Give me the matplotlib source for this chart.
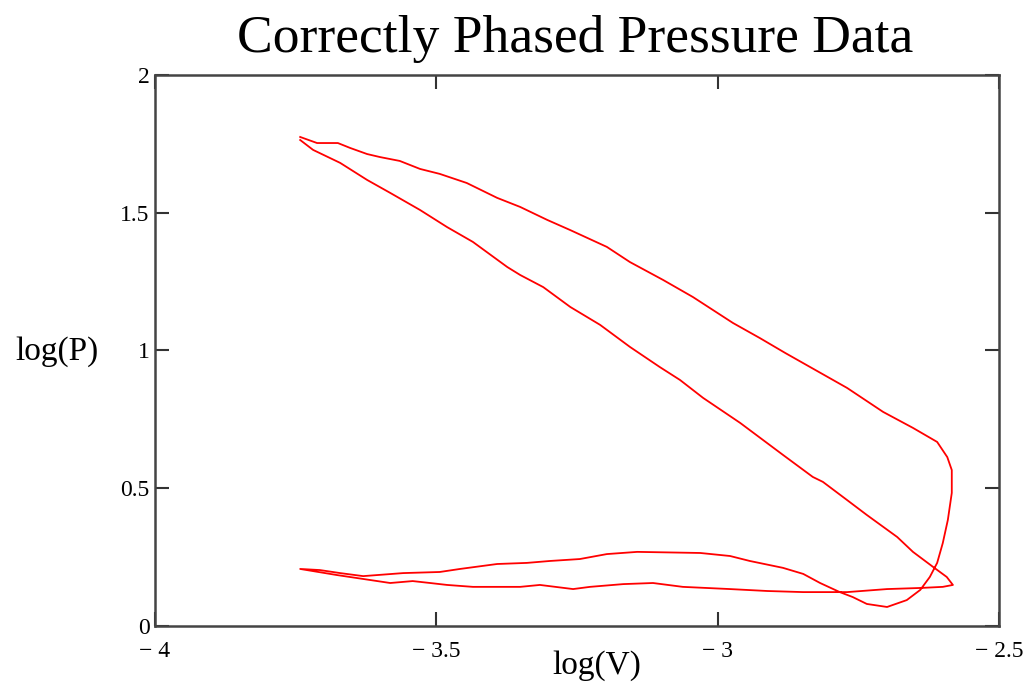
import matplotlib
matplotlib.use('Agg')
import matplotlib.pyplot as plt
import numpy as np

# Ciclo misurato: log del volume e log della pressione, in ordine di acquisizione
log_v = [
    -3.742, -3.712, -3.675, -3.653, -3.623, -3.600, -3.565, -3.529, -3.494, -3.446,
    -3.392, -3.351, -3.303, -3.262, -3.197, -3.156, -3.097, -3.044, -2.973, -2.925,
    -2.880, -2.770, -2.706, -2.653, -2.610, -2.592, -2.584, -2.584, -2.591, -2.600,
    -2.610, -2.623, -2.640, -2.664, -2.699, -2.735, -2.760, -2.783, -2.818, -2.848,
    -2.884, -2.943, -2.978, -3.031, -3.143, -3.197, -3.245, -3.298, -3.339, -3.392,
    -3.458, -3.494, -3.559, -3.630, -3.671, -3.707, -3.742,
    -3.677, -3.618, -3.582, -3.542, -3.511, -3.481, -3.435, -3.351, -3.316, -3.257,
    -3.227, -3.168, -3.115, -3.062, -2.978, -2.912, -2.848, -2.770, -2.699, -2.640,
    -2.600, -2.582,
    -2.593, -2.617, -2.653, -2.681, -2.735, -2.770, -2.813, -2.831, -2.884, -2.960,
    -3.026, -3.067, -3.103, -3.156, -3.209, -3.262, -3.310, -3.351, -3.374, -3.435,
    -3.481, -3.529, -3.582, -3.623, -3.671, -3.719, -3.742,
]
log_p = [
    1.775, 1.753, 1.753, 1.735, 1.713, 1.702, 1.688, 1.659, 1.641, 1.608,
    1.554, 1.521, 1.474, 1.437, 1.376, 1.321, 1.256, 1.194, 1.100, 1.045,
    0.991, 0.864, 0.777, 0.719, 0.668, 0.613, 0.566, 0.483, 0.385, 0.301,
    0.229, 0.178, 0.131, 0.094, 0.069, 0.080, 0.105, 0.123, 0.156, 0.189,
    0.211, 0.236, 0.254, 0.265, 0.269, 0.261, 0.243, 0.236, 0.229, 0.225,
    0.207, 0.196, 0.192, 0.181, 0.192, 0.203, 0.207,
    0.185, 0.167, 0.156, 0.163, 0.156, 0.149, 0.142, 0.142, 0.149, 0.134,
    0.142, 0.152, 0.156, 0.142, 0.134, 0.127, 0.123, 0.123, 0.134, 0.138,
    0.142, 0.149,
    0.178, 0.214, 0.269, 0.323, 0.403, 0.457, 0.523, 0.541, 0.621, 0.737,
    0.828, 0.893, 0.940, 1.013, 1.093, 1.158, 1.230, 1.274, 1.303, 1.394,
    1.448, 1.510, 1.572, 1.619, 1.681, 1.728, 1.764,
]

x_ticks = [-4, -3.5, -3, -2.5]
y_ticks = [0, 0.5, 1, 1.5, 2]
x_labels = ['\u2212 4', '\u2212 3.5', '\u2212 3', '\u2212 2.5']
y_labels = ['0', '0.5', '1', '1.5', '2']

plt.rcParams['font.family'] = ['Liberation Serif', 'DejaVu Serif']

fig = plt.figure(figsize=(10.34, 6.93), dpi=100)
ax = fig.add_axes([0.1499, 0.0967, 0.8163, 0.7951])

ax.plot(log_v, log_p, color='#ff0000', linewidth=1.3)

ax.set_xlim(-4, -2.5)
ax.set_ylim(0, 2)
ax.set_xticks(x_ticks)
ax.set_xticklabels(x_labels)
ax.set_yticks(y_ticks)
ax.set_yticklabels(y_labels)

ax.tick_params(axis='both', direction='in', length=10, width=1.5, color='#333333',
               labelsize=17, top=True, right=True)
ax.tick_params(axis='x', pad=11)
ax.tick_params(axis='y', pad=4)
for s in ax.spines.values():
    s.set_linewidth(1.8)
    s.set_color('#444444')

fig.text(0.556, 0.944, 'Correctly Phased Pressure Data', ha='center', va='center',
         fontsize=38.5)
fig.text(0.055, 0.492, 'log(P)', ha='center', va='center', fontsize=24)
fig.text(0.577, 0.04, 'log(V)', ha='center', va='center', fontsize=24)

fig.savefig('out.png', dpi=100)
